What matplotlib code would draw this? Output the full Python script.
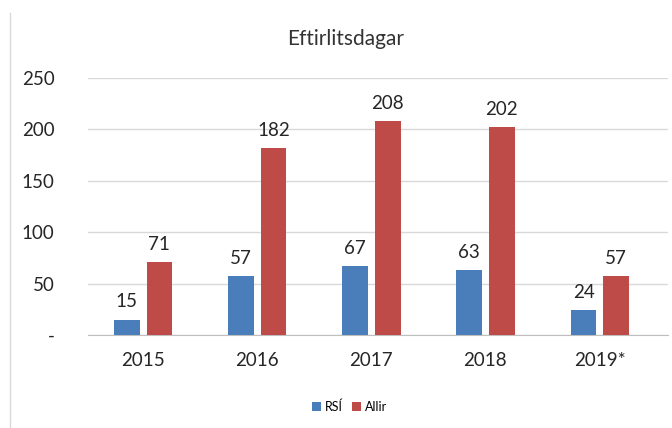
import matplotlib
matplotlib.use("Agg")
import matplotlib.pyplot as plt
import numpy as np
from matplotlib.lines import Line2D

plt.rcParams['font.family'] = ['Lato', 'DejaVu Sans']

years = ['2015', '2016', '2017', '2018', '2019*']
rsi = [15, 57, 67, 63, 24]
allir = [71, 182, 208, 202, 57]
yticks = [0, 50, 100, 150, 200, 250]
ytick_labels = ['-', '50', '100', '150', '200', '250']

blue = '#4a7ebb'
red = '#be4b48'

fig = plt.figure(figsize=(6.72, 4.28), dpi=100)
ax = fig.add_axes([88 / 672, (428 - 335) / 428, 580 / 672, 257 / 428])

x = np.arange(len(years))
w = 0.225
b1 = ax.bar(x - 0.14, rsi, w, color=blue, label='RSÍ', zorder=3)
b2 = ax.bar(x + 0.145, allir, w, color=red, label='Allir', zorder=3)

for bars, vals in ((b1, rsi), (b2, allir)):
    for r, v in zip(bars, vals):
        ax.text(r.get_x() + r.get_width() / 2, v + 9, str(v), ha='center',
                va='bottom', fontsize=13.5, color='#262626')

ax.set_xlim(-0.48, 4.6)
ax.set_ylim(0, 250)
ax.set_yticks(yticks)
ax.set_yticklabels(ytick_labels)
ax.set_xticks(x)
ax.set_xticklabels(years)
ax.tick_params(axis='both', length=0, labelsize=13.5, colors='#262626')
ax.tick_params(axis='y', pad=24)
ax.tick_params(axis='x', pad=12)
ax.yaxis.grid(True, color='#d9d9d9', linewidth=1, zorder=0)
for s in ('top', 'right', 'left'):
    ax.spines[s].set_visible(False)
ax.spines['bottom'].set_color('#bfbfbf')

fig.text(0.515, 0.91, 'Eftirlitsdagar', ha='center', va='center', fontsize=15, color='#333333')

fig.legend(handles=[b1, b2], loc='center', bbox_to_anchor=(0.52, 0.05), ncol=2,
           frameon=False, fontsize=9, handlelength=0.7, handleheight=0.7,
           handletextpad=0.3, columnspacing=0.8)

fig.add_artist(Line2D([10 / 672, 10 / 672], [0.0, 0.97], transform=fig.transFigure,
                      color='#d9d9d9', linewidth=1))

fig.savefig('out.png', dpi=100)
